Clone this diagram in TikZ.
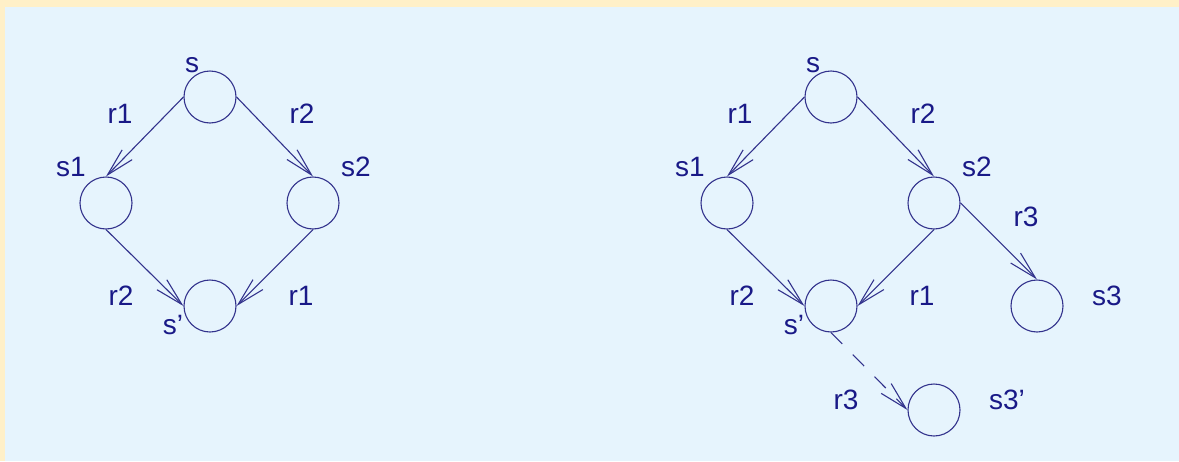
\documentclass[tikz,border=0pt]{standalone}
\usepackage{fontspec}
\setmainfont{Liberation Sans}
\usetikzlibrary{arrows.meta}
\definecolor{cream}{RGB}{255,240,200}
\definecolor{pale}{RGB}{230,244,253}
\definecolor{navy}{RGB}{25,25,135}
\definecolor{edgec}{RGB}{50,50,140}
\tikzset{
  state/.style={circle,draw=edgec,line width=1.1pt,minimum size=52pt,inner sep=0pt},
  lbl/.style={text=navy,font=\fontsize{28}{28}\selectfont,inner sep=0pt,anchor=center},
  edge/.style={draw=edgec,line width=1.1pt,-{Straight Barb[length=28pt,width=14pt,line width=1.1pt]}},
  dashededge/.style={edge,dash pattern=on 16pt off 15pt}
}
\begin{document}
\begin{tikzpicture}[x=1pt,y=-1pt]
\fill[cream] (0,0) rectangle (1179,461);
\fill[pale] (5,7) rectangle (1179,461);
\useasboundingbox (0,0) rectangle (1179,461);
% left diagram
\node[state] (Ls) at (210,97) {};
\node[state] (Ls1) at (106,203) {};
\node[state] (Ls2) at (313,203) {};
\node[state] (Lsp) at (210,306) {};
\draw[edge] (Ls.west) -- (Ls1.north);
\draw[edge] (Ls.east) -- (Ls2.north);
\draw[edge] (Ls1.south) -- (Lsp.west);
\draw[edge] (Ls2.south) -- (Lsp.east);
\node[lbl] (tLs) at (192,65) {s};
\node[lbl] (tLr1) at (120,114) {r1};
\node[lbl] (tLr2) at (302,114) {r2};
\node[lbl] (tLs1) at (71,167) {s1};
\node[lbl] (tLs2) at (356,167) {s2};
\node[lbl] (tLr2b) at (121,296) {r2};
\node[lbl] (tLr1b) at (301,296) {r1};
\node[lbl] (tLsp) at (173,325) {s’};
% right diagram
\node[state] (Rs) at (831,97) {};
\node[state] (Rs1) at (727,203) {};
\node[state] (Rs2) at (934,203) {};
\node[state] (Rsp) at (831,306) {};
\node[state] (Rs3) at (1037,306) {};
\node[state] (Rs3p) at (934,410) {};
\draw[edge] (Rs.west) -- (Rs1.north);
\draw[edge] (Rs.east) -- (Rs2.north);
\draw[edge] (Rs1.south) -- (Rsp.west);
\draw[edge] (Rs2.south) -- (Rsp.east);
\draw[edge] (Rs2.east) -- (Rs3.north);
\draw[dashededge] (Rsp.south) -- (Rs3p.west);
\node[lbl] (tRs) at (813,65) {s};
\node[lbl] (tRr1) at (740,114) {r1};
\node[lbl] (tRr2) at (923,114) {r2};
\node[lbl] (tRs1) at (690,167) {s1};
\node[lbl] (tRs2) at (977,167) {s2};
\node[lbl] (tRr3) at (1026,217) {r3};
\node[lbl] (tRr2b) at (742,296) {r2};
\node[lbl] (tRr1b) at (922,296) {r1};
\node[lbl] (tRs3) at (1107,296) {s3};
\node[lbl] (tRsp) at (794,325) {s’};
\node[lbl] (tRr3b) at (846,400) {r3};
\node[lbl] (tRs3p) at (1007,400) {s3’};
\end{tikzpicture}
\end{document}
